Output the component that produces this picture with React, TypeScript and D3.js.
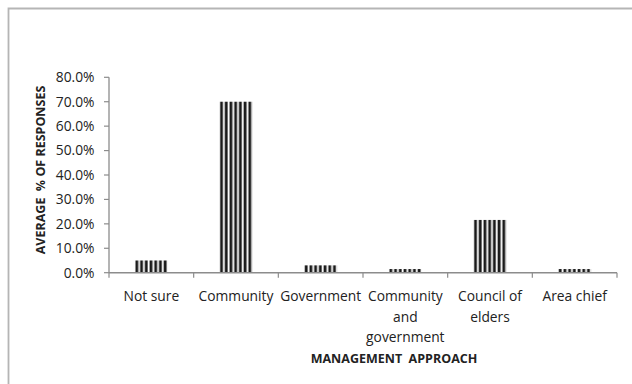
import React from "react";
import * as d3 from "d3";

const categories: string[][] = [
  ["Not sure"],
  ["Community"],
  ["Government"],
  ["Community", "and", "government"],
  ["Council of", "elders"],
  ["Area chief"],
];
const values: number[] = [0.05, 0.70, 0.03, 0.015, 0.216, 0.015];
const yTicks: number[] = [0, 0.1, 0.2, 0.3, 0.4, 0.5, 0.6, 0.7, 0.8];

const W = 632;
const H = 384;
const FONT = "'Open Sans', 'Liberation Sans', sans-serif";

export default function App() {
  const x0 = 109, x1 = 617, yTop = 77.3, yBot = 272.7;
  const x = d3.scaleBand<number>().domain(d3.range(categories.length)).range([x0, x1]).paddingInner(0.61).paddingOuter(0.305);
  const y = d3.scaleLinear().domain([0, 0.8]).range([yBot, yTop]);
  const bw = x.bandwidth();
  const fmt = d3.format(".1%");
  const axisColor = "#8c8c8c";
  const step = x.step();

  return (
    <svg width={W} height={H} style={{ position: "absolute", left: 0, top: 0 }} fontFamily={FONT}>
      <defs>
        {values.map((_, i) => (
          <pattern key={i} id={`stripe${i}`} patternUnits="userSpaceOnUse" x={x(i)} y={0} width={bw / 7} height={10}>
            <rect x={0} y={0} width={bw / 7} height={10} fill="#ffffff" />
            <rect x={0.6} y={0} width={bw / 7 - 1.9} height={10} fill="#1a1a1a" />
          </pattern>
        ))}
      </defs>
      <rect x={0} y={0} width={W} height={H} fill="#fff" />
      <path d={`M8.5,${H + 2} V8.5 H${W + 2}`} fill="none" stroke="#b5b5b5" strokeWidth={1.8} />

      {/* y axis */}
      <line x1={x0} x2={x0} y1={yTop} y2={yBot} stroke={axisColor} strokeWidth={1.3} />
      {yTicks.map((t) => (
        <g key={t}>
          <line x1={x0 - 5} x2={x0} y1={y(t)} y2={y(t)} stroke={axisColor} strokeWidth={1.2} />
          <text x={94.5} y={y(t)} dy="0.35em" textAnchor="end" fontSize={13.8} fill="#222">
            {fmt(t)}
          </text>
        </g>
      ))}

      {/* bars */}
      {values.map((v, i) => (
        <rect key={i} x={x(i)} y={y(v)} width={bw} height={yBot - y(v)} fill={`url(#stripe${i})`} />
      ))}

      {/* x axis */}
      <line x1={x0} x2={x1} y1={yBot} y2={yBot} stroke={axisColor} strokeWidth={1.5} />
      {d3.range(categories.length + 1).map((i) => (
        <line key={i} x1={x0 + i * step} x2={x0 + i * step} y1={yBot} y2={yBot + 5} stroke={axisColor} strokeWidth={1.2} />
      ))}
      {categories.map((lines, i) => (
        <text key={i} textAnchor="middle" fontSize={13.8} fill="#222">
          {lines.map((l, j) => (
            <tspan key={j} x={x(i)! + bw / 2} y={301 + j * 20.5}>
              {l}
            </tspan>
          ))}
        </text>
      ))}

      <text x={394} y={363} textAnchor="middle" fontSize={12.5} fontWeight="bold" fill="#222" style={{ whiteSpace: "pre" }}>
        {"MANAGEMENT  APPROACH"}
      </text>
      <text transform={`translate(45,170) rotate(-90)`} textAnchor="middle" fontSize={12.5} fontWeight="bold" fill="#222" style={{ whiteSpace: "pre" }}>
        {"AVERAGE  % OF RESPONSES"}
      </text>
    </svg>
  );
}
